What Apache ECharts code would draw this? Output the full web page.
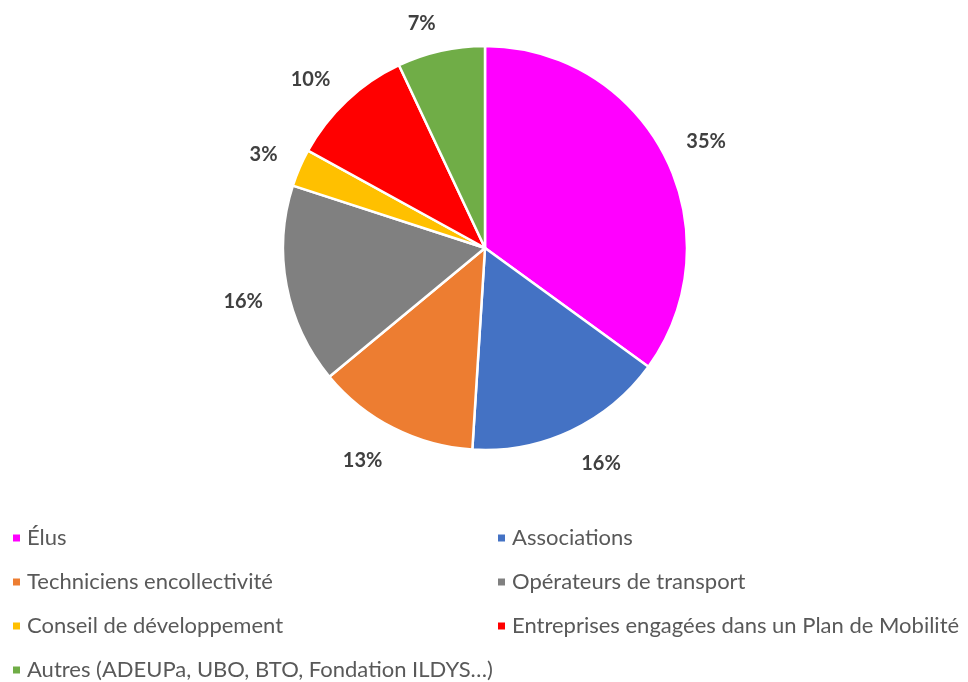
<!DOCTYPE html>
<html>
<head>
<meta charset="utf-8">
<script src="https://cdn.jsdelivr.net/npm/echarts@6/dist/echarts.min.js"></script>
<style>
  html, body { margin: 0; padding: 0; background: #fff; }
  #main { width: 968px; height: 682px; }
</style>
</head>
<body>
<div id="main"></div>
<script>
// categories and shares (%)
let categories = [
    'Élus',
    'Associations',
    'Techniciens encollectivité',
    'Opérateurs de transport',
    'Conseil de développement',
    'Entreprises engagées dans un Plan de Mobilité',
    'Autres (ADEUPa, UBO, BTO, Fondation ILDYS…)'
];
let values = [35, 16, 13, 16, 3, 10, 7];
let colors = ['#FF00FF', '#4472C4', '#ED7D31', '#808080', '#FFC000', '#FF0000', '#70AD47'];

// legend is split in two columns, like the original
let legendLeft = [categories[0], categories[2], categories[4], categories[6]];
let legendRight = [categories[1], categories[3], categories[5]];

let pieCenter = [485, 248];
let pieRadius = 202;
let labelAnchor = 226;   // the label corner nearest the pie sits at this radius
let labelHalfHeight = 7.5;
let labelShiftY = 4;     // Lato digits sit a little high with middle alignment

let total = values.reduce((a, b) => a + b, 0);

// middle angle of each slice, clockwise from 12 o'clock
function midAngle(i) {
    let before = 0;
    for (let k = 0; k < i; k++) before += values[k];
    return (before + values[i] / 2) / total * 2 * Math.PI;
}

let legendText = {
    fontFamily: 'Lato',
    fontSize: 22,
    lineHeight: 20,
    color: '#595959',
    padding: [0, 0, 0, 1]
};

let legendBase = {
    orient: 'vertical',
    top: 527,
    height: 170,
    padding: 0,
    icon: 'rect',
    itemWidth: 9,
    itemHeight: 9,
    itemGap: 22,
    textStyle: legendText
};

let option = {
    backgroundColor: '#fff',
    color: colors,
    legend: [
        Object.assign({}, legendBase, { data: legendLeft, left: 11 }),
        Object.assign({}, legendBase, { data: legendRight, left: 496 })
    ],
    series: [{
        type: 'pie',
        center: pieCenter,
        radius: pieRadius,
        startAngle: 90,
        clockwise: true,
        animation: false,
        itemStyle: {
            borderColor: '#fff',
            borderWidth: 2.5
        },
        label: {
            show: true,
            position: 'outside',
            formatter: '{c}%',
            fontFamily: 'Lato',
            fontWeight: 'bold',
            fontSize: 20,
            color: '#404040'
        },
        labelLine: { show: false },
        labelLayout: function (params) {
            let a = midAngle(params.dataIndex);
            let s = Math.sin(a), c = Math.cos(a);
            let halfW = params.labelRect.width / 2;
            let px = pieCenter[0] + labelAnchor * s;
            let py = pieCenter[1] - labelAnchor * c;
            return {
                x: px + Math.sign(s) * halfW,
                y: py - Math.sign(c) * labelHalfHeight + labelShiftY,
                align: 'center',
                verticalAlign: 'middle'
            };
        },
        data: categories.map((name, i) => ({ name: name, value: values[i] }))
    }]
};

echarts.init(document.getElementById('main')).setOption(option);
</script>
</body>
</html>
